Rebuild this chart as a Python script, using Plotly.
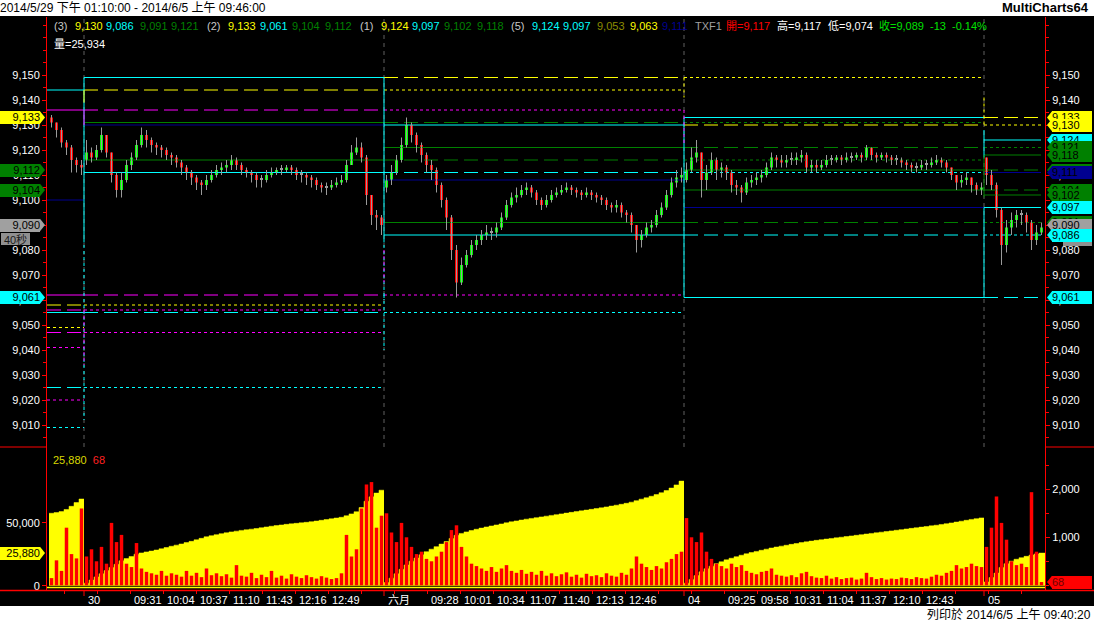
import plotly.graph_objects as go

# ============================== DATA ==============================
days = ["2014/5/29", "2014/5/30", "2014/6/3", "2014/6/4", "2014/6/5"]
first_bar = ["13:10", "08:45", "08:45", "08:45", "08:45"]   # first 5-minute bar of each day
day_open = [9133, 9116, 9105, 9108, 9117]

close_0529 = [9131, 9128, 9123, 9121, 9116, 9114, 9113]
high_0529 = [9134, 9131, 9129, 9124, 9122, 9117, 9116]
low_0529 = [9129, 9125, 9121, 9118, 9111, 9111, 9110]

close_0530 = [9119, 9117, 9120, 9126, 9119, 9110, 9104, 9108, 9114, 9117,
              9122, 9126, 9124, 9122, 9121, 9120, 9118, 9117, 9115, 9113,
              9111, 9109, 9107, 9106, 9108, 9110, 9112, 9113, 9114, 9116,
              9114, 9112, 9111, 9110, 9108, 9108, 9110, 9111, 9112, 9112,
              9113, 9112, 9110, 9110, 9109, 9108, 9106, 9105, 9105, 9106,
              9107, 9108, 9114, 9119, 9121, 9117, 9102, 9094, 9093, 9090]
high_0530 = [9124, 9121, 9122, 9129, 9126, 9119, 9111, 9111, 9116, 9119,
             9124, 9129, 9128, 9125, 9123, 9122, 9121, 9119, 9118, 9116,
             9114, 9112, 9110, 9108, 9110, 9112, 9114, 9115, 9116, 9118,
             9117, 9115, 9113, 9112, 9111, 9110, 9112, 9113, 9113, 9114,
             9114, 9114, 9113, 9112, 9111, 9110, 9109, 9107, 9107, 9108,
             9109, 9110, 9116, 9122, 9125, 9123, 9118, 9100, 9096, 9094]
low_0530 = [9114, 9115, 9116, 9119, 9117, 9107, 9101, 9101, 9107, 9112,
            9116, 9121, 9121, 9119, 9118, 9117, 9116, 9114, 9113, 9110,
            9108, 9106, 9104, 9102, 9104, 9107, 9109, 9110, 9111, 9112,
            9112, 9110, 9109, 9107, 9105, 9105, 9107, 9109, 9110, 9110,
            9111, 9110, 9108, 9107, 9106, 9105, 9104, 9103, 9102, 9104,
            9105, 9106, 9107, 9114, 9118, 9115, 9098, 9090, 9088, 9086]

close_0603 = [9108, 9111, 9116, 9122, 9130, 9126, 9122, 9118, 9114, 9112,
              9106, 9100, 9093, 9080, 9067, 9074, 9078, 9082, 9084, 9086,
              9087, 9087, 9089, 9093, 9098, 9101, 9102, 9104, 9105, 9103,
              9100, 9098, 9100, 9102, 9103, 9104, 9105, 9104, 9103, 9102,
              9103, 9102, 9101, 9100, 9098, 9097, 9098, 9095, 9094, 9090,
              9084, 9086, 9089, 9090, 9094, 9097, 9102, 9107, 9109, 9110]
high_0603 = [9110, 9114, 9118, 9125, 9133, 9131, 9127, 9123, 9119, 9116,
             9113, 9107, 9101, 9094, 9082, 9077, 9080, 9084, 9086, 9088,
             9090, 9089, 9091, 9095, 9100, 9103, 9105, 9106, 9107, 9106,
             9104, 9101, 9102, 9104, 9105, 9106, 9107, 9106, 9105, 9104,
             9105, 9104, 9103, 9102, 9101, 9099, 9100, 9099, 9096, 9095,
             9090, 9088, 9091, 9092, 9096, 9099, 9104, 9109, 9112, 9113]
low_0603 = [9103, 9106, 9110, 9115, 9121, 9123, 9119, 9115, 9111, 9108,
            9103, 9097, 9088, 9076, 9061, 9066, 9073, 9077, 9080, 9082,
            9084, 9084, 9085, 9088, 9092, 9097, 9099, 9101, 9102, 9101,
            9098, 9096, 9097, 9099, 9101, 9102, 9103, 9102, 9101, 9100,
            9101, 9100, 9099, 9098, 9096, 9095, 9095, 9093, 9091, 9087,
            9079, 9081, 9085, 9087, 9089, 9093, 9096, 9101, 9105, 9107]

close_0604 = [9112, 9117, 9119, 9108, 9111, 9116, 9112, 9113, 9111, 9106,
              9105, 9103, 9107, 9108, 9109, 9110, 9113, 9117, 9116, 9115,
              9116, 9116, 9117, 9118, 9113, 9114, 9113, 9114, 9116, 9116,
              9117, 9116, 9117, 9117, 9118, 9117, 9121, 9118, 9117, 9118,
              9117, 9116, 9116, 9115, 9114, 9113, 9113, 9114, 9114, 9115,
              9116, 9115, 9113, 9110, 9107, 9108, 9109, 9106, 9104, 9105]
high_0604 = [9115, 9121, 9124, 9119, 9114, 9119, 9117, 9115, 9114, 9112,
             9108, 9106, 9109, 9110, 9111, 9112, 9115, 9119, 9118, 9118,
             9118, 9119, 9119, 9120, 9119, 9116, 9116, 9116, 9118, 9118,
             9118, 9118, 9119, 9119, 9119, 9119, 9122, 9121, 9119, 9119,
             9119, 9118, 9118, 9117, 9116, 9115, 9115, 9116, 9116, 9117,
             9118, 9117, 9116, 9113, 9110, 9110, 9111, 9109, 9107, 9107]
low_0604 = [9107, 9111, 9115, 9101, 9104, 9110, 9108, 9109, 9108, 9103,
            9102, 9099, 9102, 9105, 9106, 9107, 9109, 9112, 9113, 9113,
            9113, 9114, 9114, 9115, 9111, 9111, 9111, 9112, 9113, 9114,
            9115, 9114, 9115, 9115, 9116, 9115, 9116, 9116, 9115, 9116,
            9115, 9114, 9114, 9113, 9112, 9111, 9111, 9112, 9112, 9113,
            9114, 9113, 9111, 9108, 9104, 9105, 9106, 9103, 9102, 9102]

close_0605 = [9110, 9106, 9096, 9082, 9089, 9092, 9094, 9094, 9091, 9084, 9087, 9089]
high_0605 = [9117, 9112, 9107, 9097, 9092, 9095, 9096, 9096, 9095, 9092, 9090, 9091]
low_0605 = [9106, 9104, 9093, 9074, 9079, 9086, 9089, 9090, 9087, 9080, 9082, 9086]

# cumulative daily volume (yellow area, left axis)
cumvol_0529 = [57500, 58000, 58800, 60500, 63000, 66000, 68800]
cumvol_0530 = [2000, 4500, 7000, 9500, 12000, 14500, 17000, 19800, 21500, 23200,
               25000, 26000, 26800, 27500, 28300, 29300, 30300, 31300, 32200, 33100,
               34200, 35200, 36400, 37600, 38800, 39700, 40500, 41300, 42000, 42700,
               43300, 43900, 44400, 44900, 45400, 46000, 46600, 47200, 47700, 48200,
               48700, 49100, 49500, 49900, 50300, 50800, 51300, 51900, 52500, 53100,
               53700, 54300, 55500, 57000, 58700, 62000, 67000, 70500, 73500, 75800]
cumvol_0603 = [2500, 6000, 9500, 13000, 16500, 19500, 22000, 24500, 27000, 29000,
               31000, 33000, 35000, 37500, 40000, 41500, 42700, 43800, 44800, 45700,
               46600, 47400, 48200, 49000, 49900, 50700, 51400, 52100, 52800, 53400,
               54000, 54600, 55200, 55800, 56400, 57000, 57600, 58200, 58800, 59400,
               60000, 60600, 61200, 61800, 62500, 63200, 63900, 64600, 65400, 66300,
               67500, 68700, 69800, 71000, 72300, 73800, 75500, 77500, 80000, 83000]
cumvol_0604 = [2000, 5000, 8000, 11000, 13500, 15500, 17500, 19000, 20500, 21800,
               23000, 24200, 25300, 26300, 27200, 28100, 29000, 29900, 30700, 31400,
               32100, 32800, 33500, 34200, 34800, 35400, 36000, 36500, 37000, 37500,
               38000, 38500, 39000, 39500, 40000, 40500, 41000, 41500, 42000, 42500,
               43000, 43500, 44000, 44500, 45000, 45500, 46000, 46500, 47000, 47500,
               48000, 48600, 49200, 49800, 50500, 51200, 51900, 52600, 53200, 53800]
cumvol_0605 = [3000, 6500, 10000, 14500, 17500, 19500, 21000, 22200, 23300, 24300, 25200, 25880]

# bar volume (red bars, right axis)
vol_0529 = [150, 520, 300, 1200, 650, 560, 1600]
vol_0530 = [600, 750, 500, 800, 450, 1300, 900, 1050, 450, 380,
            880, 350, 280, 250, 220, 300, 200, 250, 220, 180,
            300, 200, 260, 170, 350, 210, 250, 190, 230, 160,
            420, 200, 180, 260, 150, 220, 170, 300, 160, 200,
            140, 230, 180, 150, 210, 170, 140, 190, 160, 130,
            150, 250, 1050, 600, 750, 1600, 2100, 2150, 1200, 1450]
vol_0603 = [1500, 1100, 900, 1300, 1000, 800, 650, 700, 550, 500,
            600, 700, 900, 1150, 1250, 800, 600, 450, 400, 350,
            300, 380, 280, 350, 420, 300, 260, 320, 240, 280,
            220, 300, 200, 250, 190, 230, 270, 180, 220, 160,
            240, 190, 210, 170, 250, 200, 180, 260, 220, 350,
            600, 450, 380, 320, 400, 350, 480, 550, 650, 700]
vol_0604 = [1400, 1000, 900, 1100, 700, 550, 450, 400, 350, 450,
            380, 420, 300, 260, 230, 280, 300, 350, 220, 200,
            180, 210, 170, 250, 280, 190, 160, 150, 200, 140,
            170, 130, 150, 160, 120, 140, 260, 170, 130, 150,
            120, 140, 130, 160, 150, 130, 170, 150, 140, 180,
            220, 200, 260, 300, 420, 350, 380, 450, 400, 380]
vol_0605 = [800, 1200, 1850, 1300, 950, 500, 420, 450, 380, 1940, 700, 68]

# indicator levels drawn across each day
level_0529 = [9144, 9136, 9100, 9062, 9058, 9056, 9055, 9049, 9047, 9041, 9025, 9020, 9009]
level_0530 = [9149, 9144, 9136, 9131, 9130, 9116, 9111, 9062, 9058, 9056, 9055, 9047, 9025]
level_0603 = [9149, 9144, 9136, 9131, 9130, 9121, 9116, 9111, 9108, 9091, 9086, 9062, 9055]
level_0604 = [9149, 9133, 9131, 9130, 9121, 9116, 9112, 9111, 9104, 9097, 9091, 9086, 9061]
level_0605 = [9133, 9130, 9124, 9121, 9118, 9112, 9111, 9104, 9102, 9097, 9091, 9086, 9061]

# vertical jumps of the levels at day changes
jump_day = [1, 1, 1, 1, 1, 2, 2, 2, 2, 3, 3, 3, 4, 4, 4, 4]
jump_from = [9149, 9082, 9144, 9136, 9056, 9149, 9082, 9080, 9062, 9133, 9149, 9136, 9128, 9097, 9141, 9118]
jump_to = [9083, 9012, 9139, 9130, 9034, 9083, 9060, 9067, 9040, 9061, 9141, 9122, 9117, 9061, 9130, 9101]

# price tags
right_tag_prices = [9133, 9130, 9124, 9121, 9118, 9112, 9111, 9104, 9102, 9097, 9091, 9090, 9086, 9061]
left_tag_prices = [9133, 9112, 9104, 9090, 9061]
last_cumvol = 25880
last_vol = 68
bar_seconds_label = "40秒"

# axis ticks
price_ticks = list(range(9010, 9151, 10))
vol_left_ticks = [0, 50000]
vol_right_ticks = [1000, 2000]
time_label_day = [1] * 7 + [2] * 7 + [3] * 7
time_label_text = ["09:31", "10:04", "10:37", "11:10", "11:43", "12:16", "12:49",
                   "09:28", "10:01", "10:34", "11:07", "11:40", "12:13", "12:46",
                   "09:25", "09:58", "10:31", "11:04", "11:37", "12:10", "12:43"]
day_label_text = ["30", "六月", "04", "05"]

# header texts
header_items = ["(3)", "9,130", "9,086", "9,091", "9,121",
                "(2)", "9,133", "9,061", "9,104", "9,112",
                "(1)", "9,124", "9,097", "9,102", "9,118",
                "(5)", "9,124", "9,097", "9,053", "9,063", "9,111",
                "TXF1", "開=9,117", "高=9,117", "低=9,074", "收=9,089", "-13", "-0.14%"]
header_line2 = "量=25,934"
title_text = "2014/5/29 下午 01:10:00 - 2014/6/5 上午 09:46:00"
brand_text = "MultiCharts64"
print_text = "列印於 2014/6/5 上午 09:40:20"

# ============================== STYLE / LAYOUT ==============================
FONT = "Liberation Sans, Arial, Noto Sans CJK TC, sans-serif"
COL = {"C": "#00ffff", "Y": "#ffff00", "M": "#ff00ff", "G": "#008000", "N": "#000090",
       "gray": "#a0a0a0", "W": "#ffffff", "L": "#c8c8c8", "O": "#8c8c00", "R": "#ff0000",
       "B": "#00e000", "T": "#a0a0a0"}
DASH = {"-": "solid", "~": "14px,6px", ".": "3px,3px"}
level_style = [
    ["C-", "M-", "N-", "M-", "Y~", "M~", "C-", "Y.", "M~", "M.", "C~", "M.", "C."],
    ["C-", "Y~", "M~", "G-", "N-", "G-", "C-", "M~", "Y.", "M.", "C~", "M.", "C."],
    ["Y~", "Y.", "M.", "G~", "C-", "G-", "G~", "C~", "N-", "G-", "C-", "M.", "C."],
    ["Y.", "C-", "G.", "Y~", "G~", "G.", "G-", "C.", "G-", "N-", "G~", "C~", "C-"],
    ["Y~", "Y.", "C-", "G.", "G-", "G~", "N-", "G~", "G-", "C-", "G.", "C.", "C~"],
]
jump_style = ["C-", "C.", "Y-", "M-", "M.", "C-", "C.", "M.", "C.", "C-", "Y.", "M.", "C-", "C-", "Y.", "G-"]
right_tag_col = ["Y", "Y", "C", "G", "G", "G", "N", "G", "G", "C", "G", "gray", "C", "C"]
left_tag_col = ["Y", "G", "G", "gray", "C"]
header_col = ["L", "Y", "C", "G", "G", "L", "Y", "C", "G", "G", "L", "Y", "C", "G", "G",
              "L", "C", "C", "O", "Y", "N", "T", "R", "W", "W", "B", "B", "B"]
header_x_px = [52, 73, 104, 138, 169, 204.5, 226, 258, 290, 323, 358, 379, 410, 442, 475,
               508.5, 530, 561, 595, 628, 660, 693, 724, 775, 825.5, 877, 928, 950]

W, H = 1094, 622
ML, MR, MT, MB = 47, 49, 17, 32
PW, PH = W - ML - MR, H - MT - MB


def xp(px):
    return (px - ML) / PW


def yp(py):
    return (H - MB - py) / PH


P_DOM = yp(447)
P_RANGE = [9001.2, 9173.2]
V_RANGE = [-3413, 110079]
V3_RANGE = [-98, 2881]
P_UNIT = (P_RANGE[1] - P_RANGE[0]) / (447 - MT)          # price per pixel
V_UNIT = (V_RANGE[1] - V_RANGE[0]) / (H - MB - 447)
V3_UNIT = (V3_RANGE[1] - V3_RANGE[0]) / (H - MB - 447)

OPEN_MIN = 8 * 60 + 45
SESSION = 300
FIRST_OFFSET = -(13 * 60 + 10 - OPEN_MIN)   # 5/29 13:10 is x = 0


def hm(s):
    h, m = s.split(":")
    return int(h) * 60 + int(m)


def session_x(day, t):
    return FIRST_OFFSET + day * SESSION + (hm(t) - OPEN_MIN)


day_start_x = [session_x(d, first_bar[d]) for d in range(5)]
day_end_x = [session_x(d, "13:45") for d in range(4)] + [session_x(4, "09:46")]
seg_x0 = [-2] + day_start_x[1:]
seg_x1 = day_start_x[1:] + [day_end_x[4] - 4]

closes = [close_0529, close_0530, close_0603, close_0604, close_0605]
highs = [high_0529, high_0530, high_0603, high_0604, high_0605]
lows = [low_0529, low_0530, low_0603, low_0604, low_0605]
cumvols = [cumvol_0529, cumvol_0530, cumvol_0603, cumvol_0604, cumvol_0605]
vols = [vol_0529, vol_0530, vol_0603, vol_0604, vol_0605]
levels = [level_0529, level_0530, level_0603, level_0604, level_0605]

fig = go.Figure()

# ---- indicator level lines
for d in range(5):
    for p, st in zip(levels[d], level_style[d]):
        fig.add_trace(go.Scatter(x=[seg_x0[d], seg_x1[d]], y=[p, p], mode="lines",
                                 line=dict(color=COL[st[0]], width=1, dash=DASH[st[1]]),
                                 hoverinfo="skip", xaxis="x", yaxis="y"))
for d, p0, p1, st in zip(jump_day, jump_from, jump_to, jump_style):
    xj = day_start_x[d]
    fig.add_trace(go.Scatter(x=[xj, xj], y=[p0, p1], mode="lines",
                             line=dict(color=COL[st[0]], width=1, dash=DASH[st[1]]),
                             hoverinfo="skip", xaxis="x", yaxis="y"))

# ---- candles (5-minute)
bx, bo, bh, bl, bc = [], [], [], [], []
for d in range(5):
    prev = day_open[d]
    for j, (c, h, l) in enumerate(zip(closes[d], highs[d], lows[d])):
        bx.append(day_start_x[d] + 5 * j + 2.5)
        bo.append(prev)
        bc.append(c)
        bh.append(max(h, prev, c))
        bl.append(min(l, prev, c))
        prev = c

wx, wy = [], []
for x, h, l in zip(bx, bh, bl):
    wx += [x, x, None]
    wy += [l, h, None]
fig.add_trace(go.Scatter(x=wx, y=wy, mode="lines", line=dict(color="#9a9a9a", width=1),
                         hoverinfo="skip", xaxis="x", yaxis="y"))
body_base = [min(o, c) for o, c in zip(bo, bc)]
body_h = [max(abs(c - o), 0.6) for o, c in zip(bo, bc)]
body_col = ["#00ff00" if c > o else ("#ff0000" if c < o else "#a0a0a0") for o, c in zip(bo, bc)]
fig.add_trace(go.Bar(x=bx, y=body_h, base=body_base, width=3, marker=dict(color=body_col, line=dict(width=0)),
                     hoverinfo="skip", xaxis="x", yaxis="y"))

# ---- volume: cumulative area + bar volume
for d in range(5):
    xs = [day_start_x[d] + 5 * j for j in range(len(cumvols[d]))] + [day_end_x[d]]
    ys = list(cumvols[d]) + [cumvols[d][-1]]
    fig.add_trace(go.Scatter(x=xs, y=ys, mode="lines", line=dict(color="#ffff00", width=0.5, shape="hv"),
                             fill="tozeroy", fillcolor="#ffff00", hoverinfo="skip", xaxis="x", yaxis="y2"))
vx, vy = [], []
for d in range(5):
    for j, v in enumerate(vols[d]):
        vx.append(day_start_x[d] + 5 * j + 2.5)
        vy.append(v)
fig.add_trace(go.Bar(x=vx, y=vy, width=3.5, marker=dict(color="#ff0000", line=dict(width=0)),
                     hoverinfo="skip", xaxis="x", yaxis="y3"))

# ---- shapes
shapes = []
# black chart background incl. margins
shapes.append(dict(type="rect", xref="paper", yref="paper", x0=xp(0), x1=xp(W), y0=yp(606), y1=yp(16),
                   fillcolor="black", line=dict(width=0), layer="below"))
# day separators
for d in range(1, 5):
    shapes.append(dict(type="line", xref="x", yref="paper", x0=day_start_x[d], x1=day_start_x[d],
                       y0=P_DOM, y1=1, line=dict(color="#606060", width=1, dash="4px,4px"), layer="below"))
# panel separators in the axis margins
for a, b in [(0, ML), (W - MR, W)]:
    shapes.append(dict(type="line", xref="paper", yref="paper", x0=xp(a), x1=xp(b), y0=P_DOM, y1=P_DOM,
                       line=dict(color="#ff0000", width=1), layer="above"))
shapes.append(dict(type="line", xref="paper", yref="paper", x0=xp(0), x1=xp(W), y0=yp(590.5), y1=yp(590.5),
                   line=dict(color="#ff0000", width=1.5), layer="above"))
shapes.append(dict(type="line", xref="paper", yref="paper", x0=0, x1=1, y0=yp(587.5), y1=yp(587.5),
                   line=dict(color="#ffff00", width=1.5), layer="above"))
# taller day ticks
for d in range(1, 5):
    shapes.append(dict(type="line", xref="x", yref="paper", x0=day_start_x[d], x1=day_start_x[d],
                       y0=yp(590), y1=yp(596), line=dict(color="#ff0000", width=1), layer="above"))

annotations = []


def add_tag(side, yval, yref, unit, color, text, tcolor="#000000"):
    hh = 6.3 * unit
    if side == "right":
        shapes.append(dict(type="path", xref="paper", yref=yref,
                           path=f"M{xp(1052)},{yval + hh} L{xp(1047)},{yval} L{xp(1052)},{yval - hh} Z",
                           fillcolor=color, line=dict(width=0), layer="above"))
        annotations.append(dict(xref="paper", yref=yref, x=xp(1052), y=yval, xanchor="left", yanchor="middle",
                                text=text, showarrow=False, bgcolor=color, width=40, height=12.6,
                                borderpad=0, borderwidth=0, align="left",
                                font=dict(family=FONT, size=11, color=tcolor)))
    else:
        shapes.append(dict(type="path", xref="paper", yref=yref,
                           path=f"M{xp(40)},{yval + hh} L{xp(45)},{yval} L{xp(40)},{yval - hh} Z",
                           fillcolor=color, line=dict(width=0), layer="above"))
        annotations.append(dict(xref="paper", yref=yref, x=xp(0), y=yval, xanchor="left", yanchor="middle",
                                text=text, showarrow=False, bgcolor=color, width=40, height=12.6,
                                borderpad=0, borderwidth=0, align="right",
                                font=dict(family=FONT, size=11, color=tcolor)))


# small gray bar-size boxes
annotations.append(dict(xref="paper", yref="y", x=xp(1063), y=right_tag_prices[-2] - 2.3, xanchor="left",
                        yanchor="middle", text=" ", showarrow=False, bgcolor="#909090", width=29, height=11,
                        borderpad=0, borderwidth=0))
for p, c in zip(right_tag_prices, right_tag_col):
    add_tag("right", p, "y", P_UNIT, COL[c], f"{p:,}")
for p, c in zip(left_tag_prices, left_tag_col):
    add_tag("left", p, "y", P_UNIT, COL[c], f"{p:,}")
annotations.append(dict(xref="paper", yref="paper", x=xp(1), y=yp(239), xanchor="left", yanchor="middle",
                        text=bar_seconds_label, showarrow=False, bgcolor="#909090", width=29, height=12,
                        borderpad=0, borderwidth=0, align="center",
                        font=dict(family=FONT, size=11, color="#1a1a1a")))
add_tag("left", last_cumvol, "y2", V_UNIT, "#ffff00", f"{last_cumvol:,}")
add_tag("right", last_vol, "y3", V3_UNIT, "#ff0000", f"{last_vol:,}", "#700000")

# volume panel legend text
annotations.append(dict(xref="paper", yref="paper", x=xp(51), y=yp(460), xanchor="left", yanchor="middle",
                        showarrow=False, font=dict(family=FONT, size=11),
                        text=f"<span style='color:#d8d800'>{last_cumvol:,}</span>  "
                             f"<span style='color:#ff2020'>{last_vol}</span>"))

# header
for t, c, xpx in zip(header_items, header_col, header_x_px):
    annotations.append(dict(xref="paper", yref="paper", x=xp(xpx), y=yp(26), xanchor="left", yanchor="middle",
                            text=t, showarrow=False, font=dict(family=FONT, size=11, color=COL[c])))
annotations.append(dict(xref="paper", yref="paper", x=xp(52), y=yp(44), xanchor="left", yanchor="middle",
                        text=header_line2, showarrow=False, font=dict(family=FONT, size=11, color="#ffffff")))

# time axis labels
for d, t in zip(time_label_day, time_label_text):
    annotations.append(dict(xref="x", yref="paper", x=session_x(d, t) + 2, y=yp(600), xanchor="left",
                            yanchor="middle", text=t, showarrow=False,
                            font=dict(family=FONT, size=11, color="#ffffff")))
for d, t in zip(range(1, 5), day_label_text):
    annotations.append(dict(xref="x", yref="paper", x=day_start_x[d] + 2, y=yp(600), xanchor="left",
                            yanchor="middle", text=t, showarrow=False,
                            font=dict(family=FONT, size=11, color="#ffffff")))

# page texts
annotations.append(dict(xref="paper", yref="paper", x=xp(-2), y=yp(8), xanchor="left", yanchor="middle",
                        text=title_text, showarrow=False, font=dict(family=FONT, size=12, color="#000000")))
annotations.append(dict(xref="paper", yref="paper", x=xp(1091), y=yp(8), xanchor="right", yanchor="middle",
                        text=f"<b>{brand_text}</b>", showarrow=False,
                        font=dict(family=FONT, size=13, color="#000000")))
annotations.append(dict(xref="paper", yref="paper", x=xp(1093), y=yp(614), xanchor="right", yanchor="middle",
                        text=print_text, showarrow=False, font=dict(family=FONT, size=12, color="#000000")))

tick_font = dict(family=FONT, size=11, color="#ffffff")
x_minor_ticks = list(range(15, day_end_x[4], 33))

fig.update_layout(
    width=W, height=H, margin=dict(l=ML, r=MR, t=MT, b=MB, autoexpand=False),
    paper_bgcolor="#ffffff", plot_bgcolor="#000000", showlegend=False, barmode="overlay",
    shapes=shapes, annotations=annotations,
    xaxis=dict(range=[-2, day_end_x[4]], domain=[0, 1], anchor="y2", tickmode="array", tickvals=x_minor_ticks,
               ticks="outside", ticklen=3, tickcolor="#ff0000", showticklabels=False, showgrid=False,
               zeroline=False, showline=False, automargin=False),
    yaxis=dict(domain=[P_DOM, 1], range=P_RANGE, tickmode="array", tickvals=price_ticks,
               ticktext=[f"{v:,}" for v in price_ticks], ticks="outside", ticklen=4, tickcolor="#ff0000",
               minor=dict(dtick=5, tick0=9000, ticks="outside", ticklen=3, tickcolor="#ff0000"),
               showline=True, linecolor="#ff0000", linewidth=1, showgrid=False, zeroline=False,
               tickfont=tick_font, automargin=False),
    yaxis4=dict(overlaying="y", side="right", anchor="x", range=P_RANGE, tickmode="array", tickvals=price_ticks,
                ticktext=[f"{v:,}" for v in price_ticks], ticks="outside", ticklen=4, tickcolor="#ff0000",
                minor=dict(dtick=5, tick0=9000, ticks="outside", ticklen=3, tickcolor="#ff0000"),
                showline=True, linecolor="#ff0000", linewidth=1, showgrid=False, zeroline=False,
                tickfont=tick_font, automargin=False),
    yaxis2=dict(domain=[0, P_DOM], range=V_RANGE, tickmode="array", tickvals=vol_left_ticks,
                ticktext=[f"{v:,}" for v in vol_left_ticks], ticks="outside", ticklen=4, tickcolor="#ff0000",
                showline=True, linecolor="#ff0000", linewidth=1, showgrid=False, zeroline=False,
                tickfont=tick_font, automargin=False),
    yaxis3=dict(overlaying="y2", side="right", anchor="x", range=V3_RANGE, tickmode="array",
                tickvals=vol_right_ticks, ticktext=[f"{v:,}" for v in vol_right_ticks], ticks="outside",
                ticklen=4, tickcolor="#ff0000",
                minor=dict(dtick=500, tick0=0, ticks="outside", ticklen=3, tickcolor="#ff0000"),
                showline=True, linecolor="#ff0000", linewidth=1, showgrid=False, zeroline=False,
                tickfont=tick_font, automargin=False),
)
# a dummy trace to make yaxis4 render
fig.add_trace(go.Scatter(x=[None], y=[None], xaxis="x", yaxis="y4", hoverinfo="skip"))

fig.write_html("out.html", config={"displayModeBar": False},
               post_script="document.body.style.margin='0';document.body.style.padding='0';"
                           "document.body.style.overflow='hidden';")
